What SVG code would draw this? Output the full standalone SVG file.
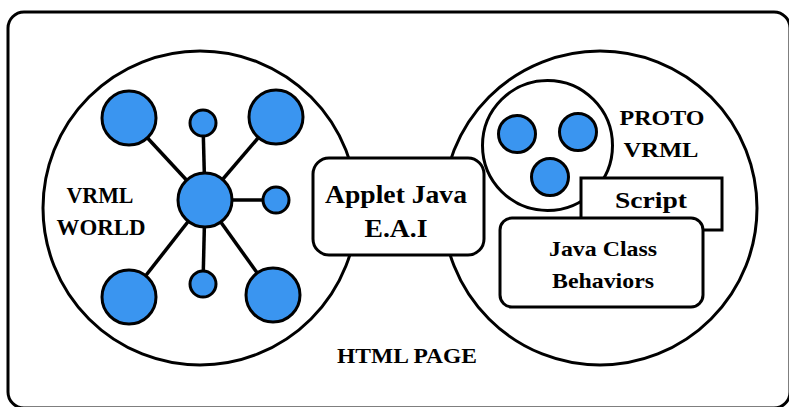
<svg xmlns="http://www.w3.org/2000/svg" width="789" height="407" viewBox="0 0 789 407">
<style>
.ln{fill:none;stroke:#000;stroke-width:3}
.wh{fill:#fff;stroke:#000;stroke-width:3}
.bl{fill:#3a95f0;stroke:#000;stroke-width:3}
.sp{stroke:#000;stroke-width:3.5}
text{font-family:"Liberation Serif","Times New Roman",serif;font-weight:bold;fill:#000;text-anchor:middle}
</style>
<rect width="789" height="407" fill="#fff"/>
<g id="html-page">
<rect class="wh" x="8" y="12" width="782" height="396" rx="16"/>
<text x="407" y="363" font-size="22" textLength="140" lengthAdjust="spacingAndGlyphs">HTML PAGE</text>
</g>
<g id="vrml-world">
<circle class="wh" cx="200" cy="208" r="157"/>
<text x="100" y="203" font-size="23" textLength="67" lengthAdjust="spacingAndGlyphs">VRML</text>
<text x="101" y="235" font-size="23" textLength="89" lengthAdjust="spacingAndGlyphs">WORLD</text>
</g>
<g id="connectors">
<line class="sp" x1="205" y1="200" x2="129" y2="118"/>
<line class="sp" x1="205" y1="200" x2="276" y2="117"/>
<line class="sp" x1="205" y1="200" x2="129" y2="297"/>
<line class="sp" x1="205" y1="200" x2="273" y2="295"/>
<line class="sp" x1="205" y1="200" x2="203" y2="123"/>
<line class="sp" x1="205" y1="200" x2="276" y2="200"/>
<line class="sp" x1="205" y1="200" x2="203" y2="284"/>
</g>
<g id="node-tl"><circle class="bl" cx="129" cy="118" r="27"/></g>
<g id="node-tr"><circle class="bl" cx="276" cy="117" r="27"/></g>
<g id="node-bl"><circle class="bl" cx="129" cy="297" r="27"/></g>
<g id="node-br"><circle class="bl" cx="273" cy="295" r="27"/></g>
<g id="node-top"><circle class="bl" cx="203" cy="123" r="13"/></g>
<g id="node-right"><circle class="bl" cx="276" cy="200" r="13"/></g>
<g id="node-bottom"><circle class="bl" cx="203" cy="284" r="13"/></g>
<g id="node-hub"><circle class="bl" cx="205" cy="200" r="27"/></g>
<g id="right-world">
<circle class="wh" cx="600" cy="208" r="157"/>
</g>
<g id="proto-vrml">
<circle class="wh" cx="547.5" cy="145.5" r="65"/>
<circle class="bl" cx="517" cy="134" r="18.5"/>
<circle class="bl" cx="578" cy="132" r="18.5"/>
<circle class="bl" cx="550" cy="177" r="18.5"/>
<text x="662" y="125" font-size="22" textLength="85" lengthAdjust="spacingAndGlyphs">PROTO</text>
<text x="661" y="157" font-size="22" textLength="75" lengthAdjust="spacingAndGlyphs">VRML</text>
</g>
<g id="script">
<rect class="wh" x="581" y="178" width="141" height="52"/>
<text x="651" y="208" font-size="24" textLength="72" lengthAdjust="spacingAndGlyphs">Script</text>
</g>
<g id="java-class">
<rect class="wh" x="500" y="218" width="203" height="89" rx="12"/>
<text x="603" y="256" font-size="22" textLength="108" lengthAdjust="spacingAndGlyphs">Java Class</text>
<text x="603" y="288" font-size="22" textLength="102" lengthAdjust="spacingAndGlyphs">Behaviors</text>
</g>
<g id="applet">
<rect class="wh" x="313" y="158" width="171" height="97" rx="16"/>
<text x="396" y="203" font-size="26" textLength="142" lengthAdjust="spacingAndGlyphs">Applet Java</text>
<text x="396" y="237" font-size="26" textLength="63" lengthAdjust="spacingAndGlyphs">E.A.I</text>
</g>
</svg>
